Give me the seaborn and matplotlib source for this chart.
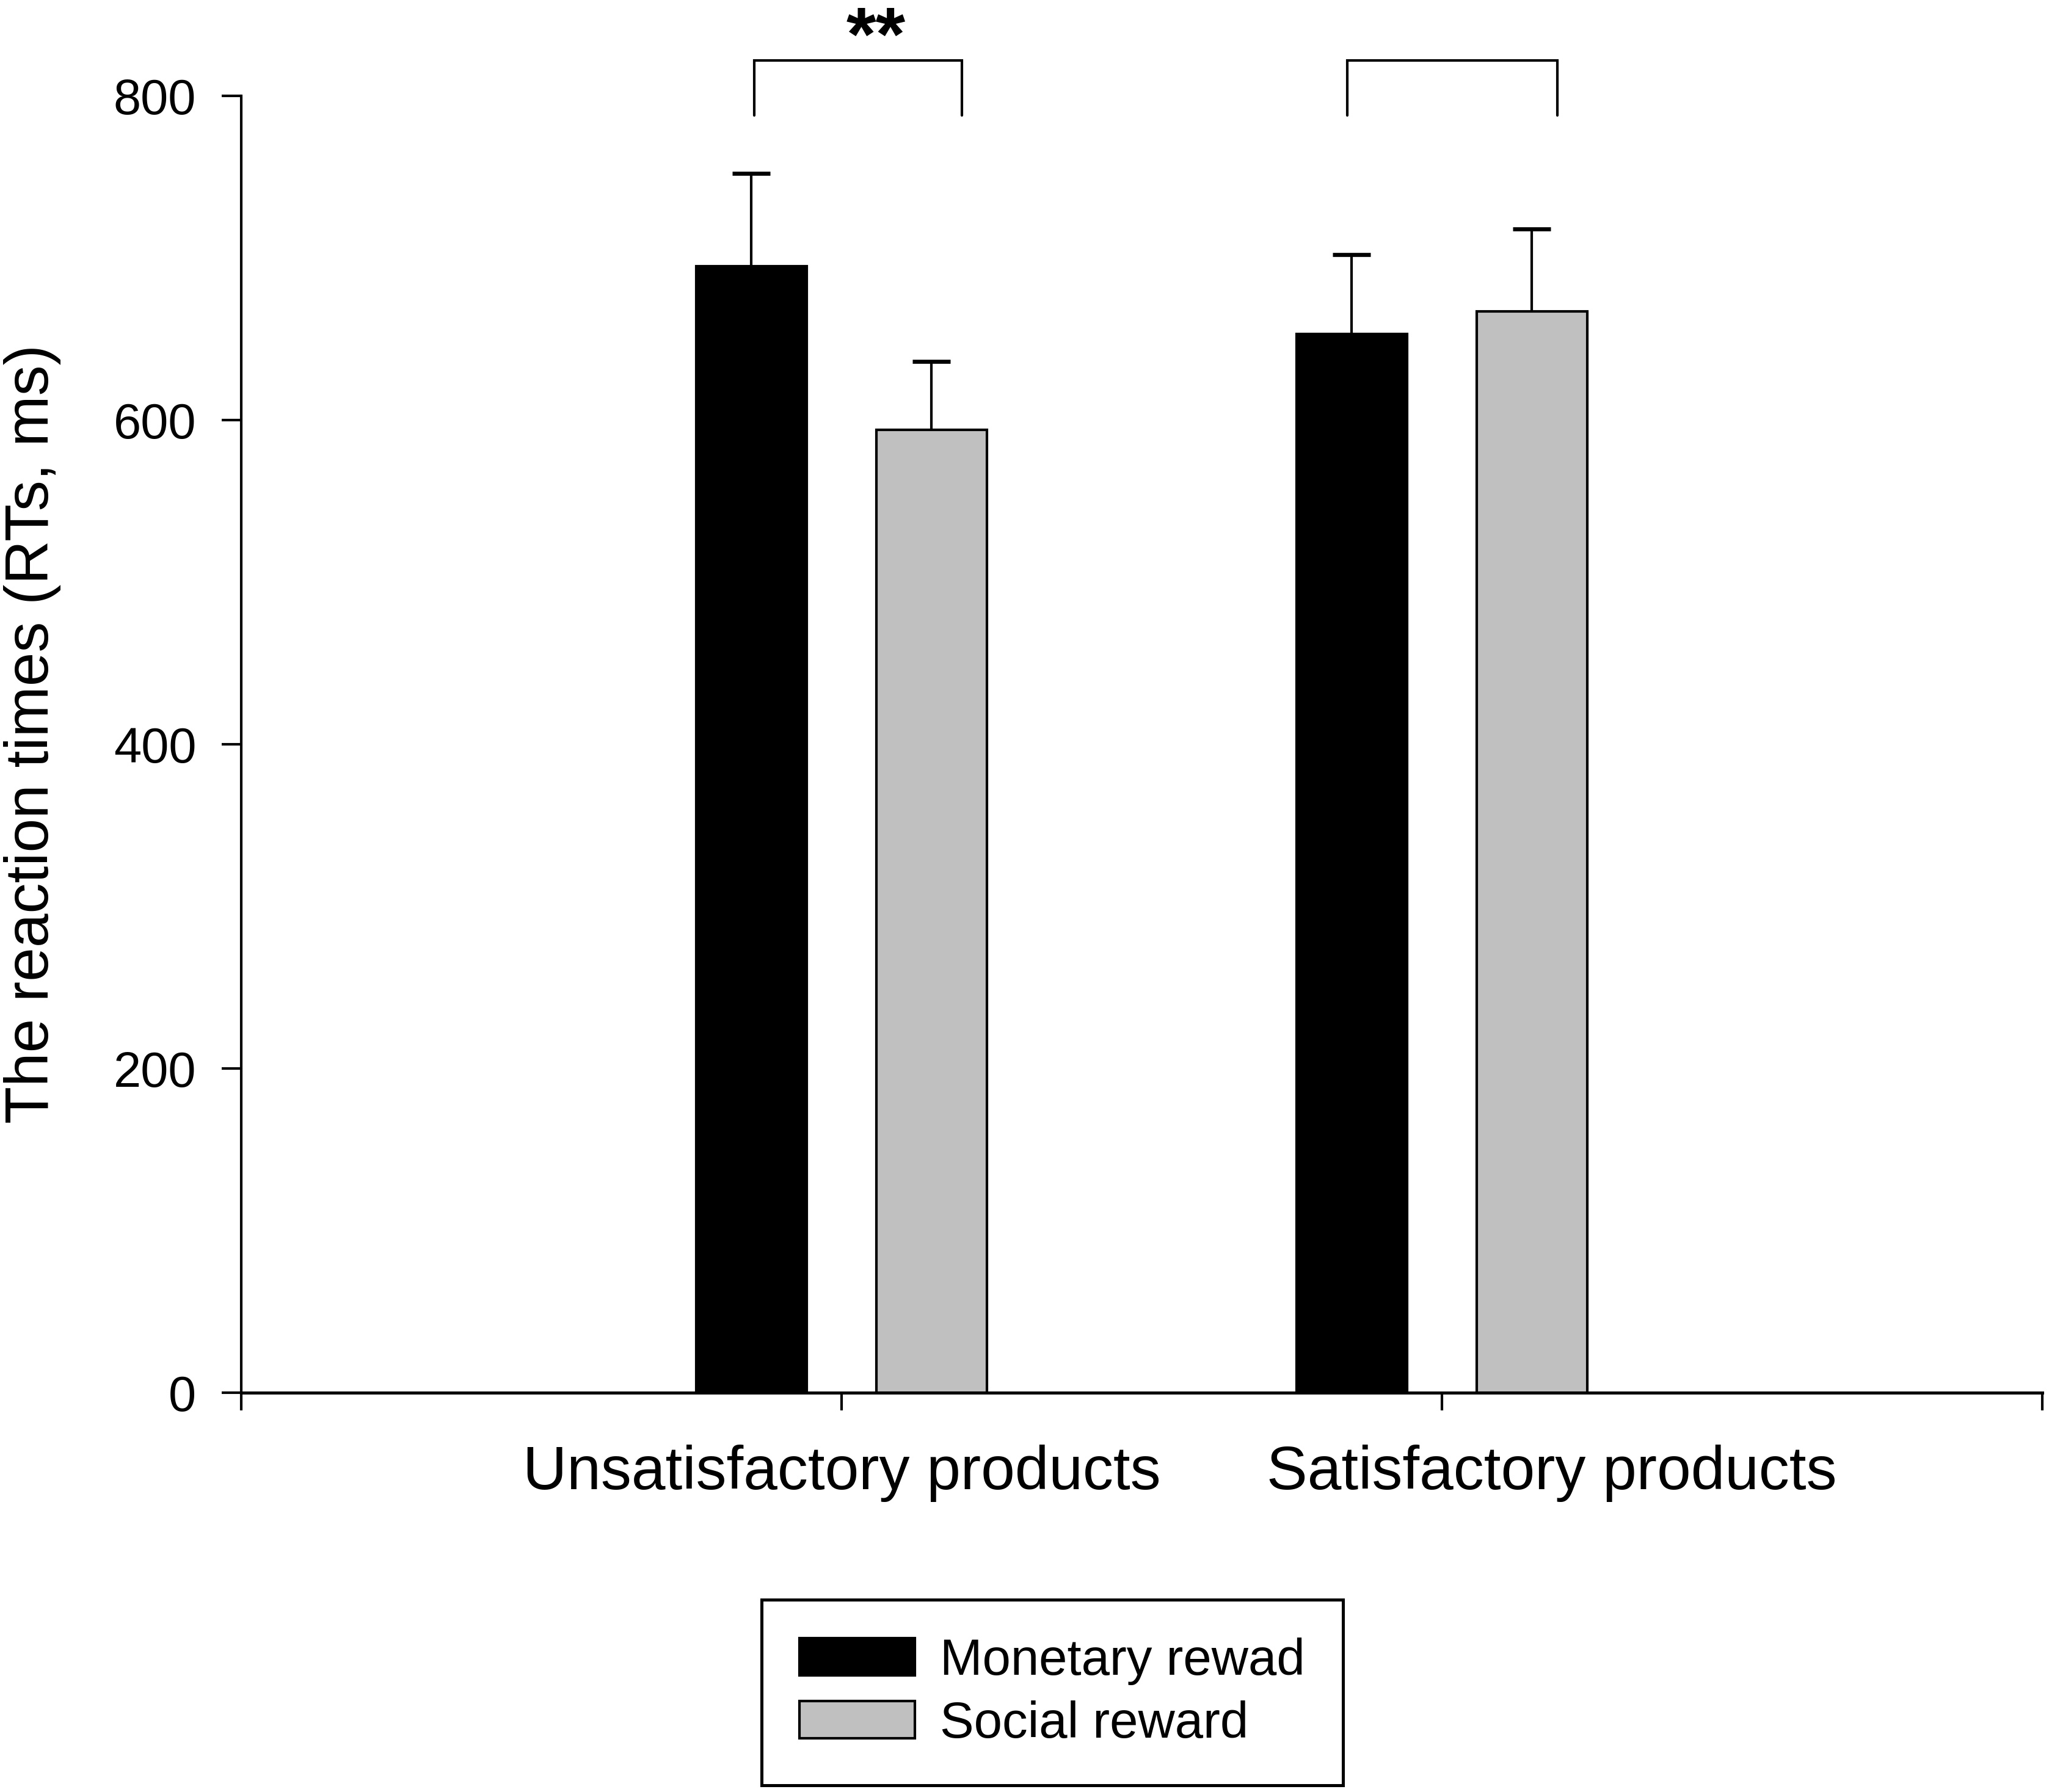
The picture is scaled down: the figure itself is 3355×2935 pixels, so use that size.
import numpy as np
import pandas as pd
import matplotlib
matplotlib.use("Agg")
import matplotlib.pyplot as plt
import matplotlib.transforms as mtransforms
import seaborn as sns

# Values
products = ["Unsatisfactory products", "Satisfactory products"]
rewards = ["Monetary rewad", "Social reward"]
monetary_rt = [695, 653]
social_rt = [594, 667]
monetary_err = [57, 49]
social_err = [42, 51]
yticks = [0, 200, 400, 600, 800]

sns.set_style("ticks")
plt.rcParams["font.family"] = ["Liberation Sans", "DejaVu Sans"]
plt.rcParams["text.color"] = "black"
plt.rcParams["axes.labelcolor"] = "black"
plt.rcParams["xtick.color"] = "black"
plt.rcParams["ytick.color"] = "black"
plt.rcParams["axes.edgecolor"] = "black"

df = pd.DataFrame({
    "product": products * 2,
    "reward": [rewards[0]] * 2 + [rewards[1]] * 2,
    "rt": monetary_rt + social_rt,
})
errs = {rewards[0]: monetary_err, rewards[1]: social_err}

fig = plt.figure(figsize=(3355 / 300, 2935 / 300), dpi=300)
ax = fig.add_axes([0.1177, 0.2228, 0.9967 - 0.1177, 0.9465 - 0.2228])

sns.barplot(data=df, x="product", y="rt", hue="reward", order=products,
            hue_order=rewards, palette=["black", "#C0C0C0"], width=0.6,
            gap=0.387, edgecolor="black", linewidth=1.0, errorbar=None,
            saturation=1, ax=ax)

# upper-only error bars on top of each bar
for cont, lvl in zip(ax.containers, rewards):
    xs = [b.get_x() + b.get_width() / 2 for b in cont]
    hs = [b.get_height() for b in cont]
    e = errs[lvl]
    eb = ax.errorbar(xs, hs, yerr=[np.zeros(len(e)), e], fmt="none",
                     ecolor="black", elinewidth=1.0, capsize=7.5,
                     capthick=1.6, zorder=1)
    # hide the cap sitting on the bar top
    for cl in eb.lines[1]:
        if np.allclose(cl.get_ydata(), hs):
            cl.set_visible(False)

# significance brackets
brackets = [(-0.145, 0.200), (1 - 0.158, 1 + 0.1925)]
for x0, x1 in brackets:
    ax.plot([x0, x0, x1, x1], [788, 822, 822, 788], color="black", lw=1.0,
            clip_on=False, solid_joinstyle="miter")
ax.text(0.057, 822, "**", ha="center", va="baseline", fontsize=30,
        fontweight="bold", clip_on=False)

ax.set_ylim(0, 800)
ax.set_xlim(-1, 2)
ax.set_yticks(yticks)
ax.set_yticklabels([str(v) for v in yticks])
ax.set_xticks([-1, 0, 1, 2])
ax.set_xticklabels(["", products[0], products[1], ""])
ax.tick_params(axis="y", length=7.7, width=1.0, pad=10, labelsize=19.5)
ax.tick_params(axis="x", length=7, width=1.0, pad=13.5, labelsize=24)
ax.set_xlabel("")
ax.set_ylabel("The reaction times (RTs, ms)", fontsize=24)
ax.yaxis.set_label_coords(-0.100, 0.508)

# the second category label sits right of its tick in the original
lbl = ax.get_xticklabels()[2]
lbl.set_transform(lbl.get_transform() +
                  mtransforms.ScaledTranslation(84 * 2.14 / 300, 0,
                                                fig.dpi_scale_trans))

sns.despine(ax=ax)
ax.spines["left"].set_linewidth(1.0)
ax.spines["bottom"].set_linewidth(1.2)

sns.move_legend(ax, "center", bbox_to_anchor=(0.5135, 0.0555),
                bbox_transform=fig.transFigure, title=None, frameon=True,
                fancybox=False, fontsize=20, handlelength=2.27,
                handleheight=0.75, handletextpad=0.5, labelspacing=0.3,
                borderpad=0.74, borderaxespad=0)
leg = ax.get_legend()
leg.get_frame().set_edgecolor("black")
leg.get_frame().set_linewidth(1.2)
leg.get_frame().set_alpha(1)
for t in leg.get_texts():
    t.set_color("black")

fig.savefig("out.png", dpi=300)
